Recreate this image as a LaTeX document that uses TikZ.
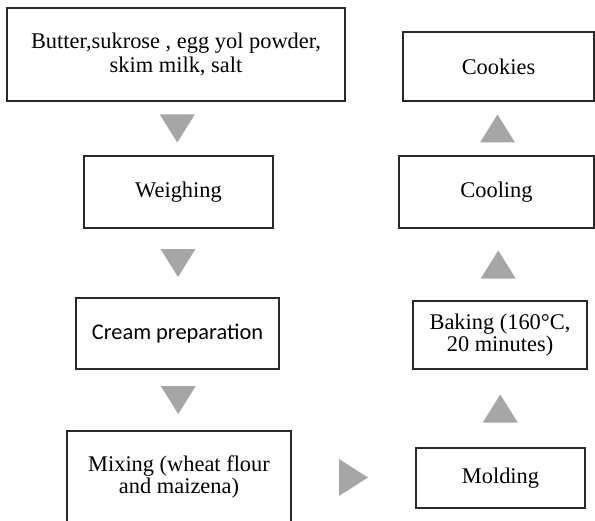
\documentclass[tikz,border=0pt]{standalone}
\usepackage{fontspec}
\setmainfont{Liberation Serif}
\newfontfamily\calibrilike{Carlito}
\usetikzlibrary{calc}
\definecolor{boxline}{HTML}{2A2A2A}
\definecolor{trigray}{HTML}{A6A6A6}
\tikzset{
  stepbox/.style={draw=boxline, line width=1.7bp, fill=white, align=center, inner sep=0pt,
    font=\fontsize{22.4bp}{22.5bp}\selectfont},
  tri/.style={fill=trigray, draw=none}
}
\begin{document}
\begin{tikzpicture}[x=1bp,y=1bp]
\clip (0,0) rectangle (595,-521);
\fill[white] (0,0) rectangle (595,-521);
% left column
\node[stepbox, minimum width=338bp, minimum height=93bp] (b1) at (176,-54.5)
  {\raisebox{-3bp}{\shortstack{Butter,sukrose , egg yol powder,\\[0.5bp] skim milk, salt}}};
\node[stepbox, minimum width=189bp, minimum height=72bp] (weigh) at (178.5,-192) {Weighing};
\node[stepbox, minimum width=203bp, minimum height=71bp, font=\fontsize{22.4bp}{22.5bp}\calibrilike] (cream) at (177.5,-333.5) {Cream preparation};
\node[stepbox, minimum width=224bp, minimum height=92bp] (mix) at (179,-477)
  {Mixing (wheat flour\\ and maizena)};
% right column
\node[stepbox, minimum width=191bp, minimum height=69bp] (cookies) at (498.5,-66.5) {Cookies};
\node[stepbox, minimum width=195bp, minimum height=72bp] (cooling) at (496.5,-192) {Cooling};
\node[stepbox, minimum width=174bp, minimum height=68bp] (baking) at (500,-335)
  {Baking (160°C,\\ 20 minutes)};
\node[stepbox, minimum width=169bp, minimum height=60bp] (molding) at (500.5,-478) {Molding};
% triangle connectors
\coordinate (t1) at ($(b1.south)!0.5!(weigh.north)$);
\coordinate (t2) at ($(weigh.south)!0.5!(cream.north)$);
\coordinate (t3) at ($(cream.south)!0.5!(mix.north)$);
\coordinate (t4) at ($(mix.east)!0.5!(molding.west)$);
\coordinate (t5) at ($(molding.north)!0.5!(baking.south)$);
\coordinate (t6) at ($(cooling.north)!0.5!(cookies.south)$);
\coordinate (t7) at ($(baking.north)!0.5!(cooling.south)$);
\fill[tri] ($(t1)+(-17.5,14)$) -- ($(t1)+(17.5,14)$) -- ($(t1)+(0,-14)$) -- cycle;
\fill[tri] ($(t2)+(-17.5,14)$) -- ($(t2)+(17.5,14)$) -- ($(t2)+(0,-14)$) -- cycle;
\fill[tri] ($(t3)+(-17.5,14)$) -- ($(t3)+(17.5,14)$) -- ($(t3)+(0,-14)$) -- cycle;
\fill[tri] ($(t4)+(-14.5,18.5)$) -- ($(t4)+(-14.5,-18.5)$) -- ($(t4)+(14.5,0)$) -- cycle;
\fill[tri] ($(t5)+(-17.5,-14)$) -- ($(t5)+(17.5,-14)$) -- ($(t5)+(0,14)$) -- cycle;
\fill[tri] ($(t6)+(-17.5,-14)$) -- ($(t6)+(17.5,-14)$) -- ($(t6)+(0,14)$) -- cycle;
\fill[tri] ($(t7)+(-17.5,-14)$) -- ($(t7)+(17.5,-14)$) -- ($(t7)+(0,14)$) -- cycle;
\end{tikzpicture}
\end{document}
